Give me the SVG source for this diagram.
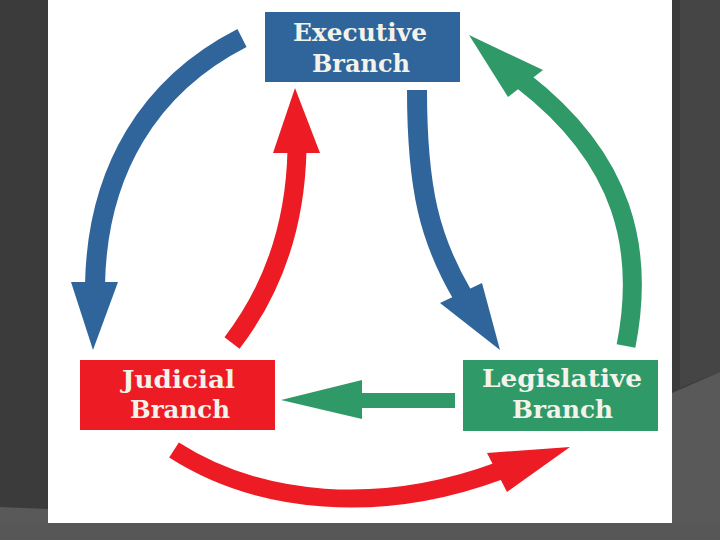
<svg xmlns="http://www.w3.org/2000/svg" width="720" height="540" viewBox="0 0 720 540">
  <style>
    .lbl { font-family: "DejaVu Serif", "Liberation Serif", serif; font-weight: bold; font-size: 25px; fill: #f3f3ec; text-anchor: middle; }
    .shaft { fill: none; stroke-linecap: butt; }
    .blue { stroke: #30659b; }
    .red { stroke: #ed1c24; }
    .green { stroke: #2f9a68; }
    .bluef { fill: #30659b; }
    .redf { fill: #ed1c24; }
    .greenf { fill: #2f9a68; }
  </style>
  <!-- background -->
  <rect x="0" y="0" width="720" height="540" fill="#3b3b3b"/>
  <polygon points="680,0 720,0 720,372 680,388" fill="#454545"/>
  <polygon points="672,393 720,372 720,540 672,540" fill="#595959"/>
  <polygon points="0,507 48,509 48,540 0,540" fill="#595959"/>
  <rect x="0" y="523" width="720" height="17" fill="#575757"/>
  <rect x="48" y="0" width="624" height="523" fill="#ffffff"/>

  <g id="connectors">
    <!-- Executive to Judicial (left blue arc) -->
    <path class="shaft blue" stroke-width="20" d="M242,38 C150,85 97,170 95,285"/>
    <polygon class="bluef" points="71,282 118,282 93,350"/>
    <!-- Judicial to Executive (red up) -->
    <path class="shaft red" stroke-width="19" d="M232,343 C265,300 295,240 297,150"/>
    <polygon class="redf" points="273,153 320,153 295,88"/>
    <!-- Executive to Legislative (blue down) -->
    <path class="shaft blue" stroke-width="20" d="M417,90 C417,190 430,240 463,296"/>
    <polygon class="bluef" points="440,303 482,283 500,350"/>
    <!-- Legislative to Executive (green right arc) -->
    <path class="shaft green" stroke-width="19" d="M626,346 C645,250 625,160 523,81"/>
    <polygon class="greenf" points="508,97 543,70 469,35"/>
    <!-- Judicial to Legislative (red bottom) -->
    <path class="shaft red" stroke-width="18" d="M174,450 C260,505 380,515 499,471"/>
    <polygon class="redf" points="487,453 507,492 570,447"/>
    <!-- Legislative to Judicial (green horizontal) -->
    <path class="shaft green" stroke-width="15" d="M455,400.5 L358,400.5"/>
    <polygon class="greenf" points="281,400 362,380 362,419"/>
  </g>

  <g id="executive">
    <rect x="265" y="12" width="195" height="70" fill="#30659b"/>
    <text class="lbl" x="360" y="41" textLength="134" lengthAdjust="spacingAndGlyphs">Executive</text>
    <text class="lbl" x="361" y="72" textLength="98" lengthAdjust="spacingAndGlyphs">Branch</text>
  </g>
  <g id="judicial">
    <rect x="80" y="360" width="195" height="70" fill="#ed1c24"/>
    <text class="lbl" x="178.5" y="388" textLength="113" lengthAdjust="spacingAndGlyphs">Judicial</text>
    <text class="lbl" x="180" y="418" textLength="100" lengthAdjust="spacingAndGlyphs">Branch</text>
  </g>
  <g id="legislative">
    <rect x="463" y="360" width="195" height="71" fill="#2f9a68"/>
    <text class="lbl" x="562" y="387" textLength="160" lengthAdjust="spacingAndGlyphs">Legislative</text>
    <text class="lbl" x="562.5" y="418" textLength="101" lengthAdjust="spacingAndGlyphs">Branch</text>
  </g>
</svg>
